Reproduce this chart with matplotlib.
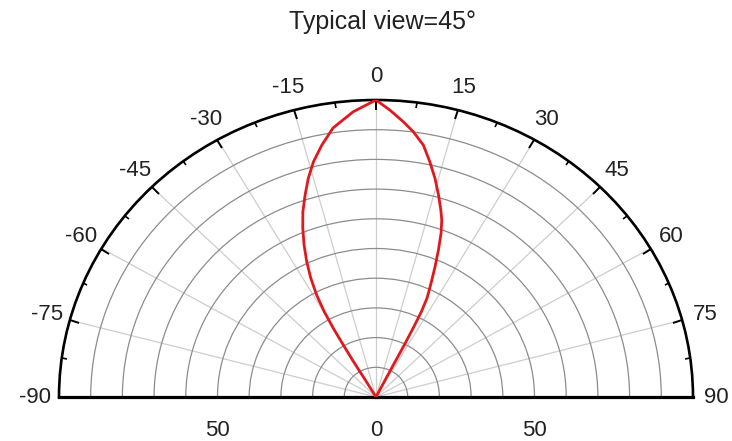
import numpy as np
import matplotlib

matplotlib.use("Agg")

import matplotlib.pyplot as plt

plt.rcParams["font.family"] = ["Liberation Sans", "DejaVu Sans"]

title = "Typical view=45°"

angle_deg = [-30.5, -30.5, -30.8, -30.5, -30.2, -29.6, -28.6, -27.2, -25.6, -23.9,
             -22.1, -20.3, -18.2, -16.2, -14.0, -11.4, -8.5, -4.3, 0,
             2.6, 5.3, 7.5, 10.0, 12.1, 14.2, 16.1, 18.0, 19.2, 20.4,
             21.7, 23.0, 24.4, 25.8, 26.5, 26.8, 27.0, 26.9, 26.7, 26.7]
rel_intensity = [0, 7, 13.9, 20.3, 26.8, 33.0, 39.1, 45.0, 50.6, 56.0,
                 61.4, 66.5, 71.6, 76.6, 81.6, 86.5, 91.6, 96.3, 100,
                 96.7, 93.1, 90.1, 86.1, 81.0, 75.9, 71.0, 66.2, 63.1, 58.9,
                 53.3, 47.7, 42.0, 37.0, 32.0, 26.0, 20.0, 13.0, 7.0, 0]

theta_ticks = list(range(-90, 91, 15))
theta_minor = list(np.arange(-90, 91, 7.5))
r_grid = [10, 20, 30, 40, 50, 60, 70, 80, 90]

base_theta = [-90, 0, 90]
base_r = [50, 0, 50]
base_labels = ["50", "0", "50"]

fig = plt.figure(figsize=(7.32, 4.41), dpi=100)
ax = fig.add_axes([0.0806, -0.237, 0.8661, 1.347], projection="polar")
ax.set_aspect("auto")
ax.set_theta_zero_location("N")
ax.set_theta_direction(-1)
ax.set_thetamin(-90)
ax.set_thetamax(90)
ax.set_rlim(0, 100)

ax.plot(np.deg2rad(angle_deg), rel_intensity, color="#e0191e", linewidth=2.0,
        solid_joinstyle="round", zorder=3)

ax.set_xticks(np.deg2rad(theta_ticks))
ax.set_xticklabels([str(t) for t in theta_ticks])
ax.set_xticks(np.deg2rad(theta_minor), minor=True)
ax.tick_params(axis="x", which="both", top=True, bottom=False)
ax.tick_params(axis="x", which="major", direction="in", length=7, width=1.4,
               pad=10, labelsize=16, labelcolor="#222222")
ax.tick_params(axis="x", which="minor", direction="in", length=3.5, width=1.2)

ax.set_yticks(r_grid)
ax.set_yticklabels([])
ax.tick_params(axis="y", length=0)

ax.xaxis.grid(True, which="major", color="#cdcdcd", linewidth=0.9)
ax.yaxis.grid(True, color="#8c8c8c", linewidth=0.9)

ax.spines["polar"].set_linewidth(1.9)
ax.spines["start"].set_linewidth(2.3)
ax.spines["end"].set_linewidth(2.3)

for th, r, lab in zip(base_theta, base_r, base_labels):
    ax.annotate(lab, xy=(np.deg2rad(th), r), xytext=(0, -24), textcoords="offset points",
                ha="center", va="center", fontsize=16, color="#222222",
                annotation_clip=False)

fig.text(0.523, 1 - 22 / 441, title, ha="center", va="center", fontsize=18, color="#222222")

fig.savefig("out.png", dpi=100)
plt.close(fig)
